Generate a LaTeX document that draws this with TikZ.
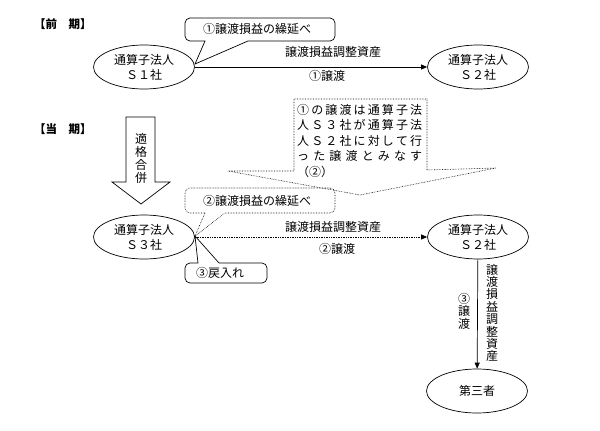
\documentclass[tikz,border=0pt]{standalone}
\usepackage{fontspec}
\setmainfont{Noto Sans CJK JP}
\usetikzlibrary{arrows.meta,shapes.geometric}
\begin{document}
\begin{tikzpicture}[x=1pt,y=-1pt,
  every node/.style={font=\fontsize{12}{15}\selectfont},
  ell/.style={ellipse,draw,line width=0.7pt,minimum width=101pt,minimum height=44pt,inner sep=0pt,align=center},
  conn/.style={line width=0.7pt,-{Triangle[length=6pt,width=5pt]}},
  dotconn/.style={line width=0.7pt,densely dotted,-{Triangle[length=6pt,width=5pt]}},
  callout/.style={line width=0.7pt},
  dotcallout/.style={line width=0.6pt,densely dotted},
  lbl/.style={inner sep=0pt},
  vlbl/.style={inner sep=0pt,align=center,font=\fontsize{12}{12.4}\selectfont},
  head/.style={inner sep=0pt,font=\fontsize{11.5}{14}\selectfont\bfseries}]
\useasboundingbox (0,0) rectangle (600,431);

% headers
\node[head] (h1) at (63,24) {【前　期】};
\node[head] (h2) at (63,129) {【当　期】};

% previous period
\node[ell] (s1) at (144,67) {通算子法人\\Ｓ１社};
\node[ell] (s2a) at (478,67) {通算子法人\\Ｓ２社};
\draw[conn] (s1) -- (s2a);
\node[lbl] (l1) at (333,52) {譲渡損益調整資産};
\node[lbl] (l2) at (327,76) {①譲渡};

% callout 1
\coordinate (c1tip) at (195,64);
\draw[callout] (205,41) [rounded corners=5pt] -- (185,41) -- (185,18) -- (335,18) -- (335,41) [sharp corners] -- (248,41) -- (c1tip) -- cycle;
\node[lbl] (c1t) at (257,29) {①譲渡損益の繰延べ};

% merger arrow
\draw[line width=0.7pt] (126,117) -- (155,117) -- (155,182) -- (170,182) -- (141,204) -- (112,182) -- (126,182) -- cycle;
\node[vlbl,font=\fontsize{12}{13}\selectfont] (mg) at (141,158) {適\\格\\合\\併};

% wing note
\draw[dotcallout] (294,99) -- (427,99) -- (427,170) -- (496,168) -- (360,195) -- (228,171) -- (294,171) -- cycle;
\node[inner sep=0pt,anchor=north west,align=left,font=\fontsize{12}{15.5}\selectfont] (note) at (297,104)
 {\makebox[125pt]{①\hfill の\hfill 譲\hfill 渡\hfill は\hfill 通\hfill 算\hfill 子\hfill 法}\\
  \makebox[125pt]{人\hfill Ｓ\hfill ３\hfill 社\hfill が\hfill 通\hfill 算\hfill 子\hfill 法}\\
  \makebox[125pt]{人\hfill Ｓ\hfill ２\hfill 社\hfill に\hfill 対\hfill し\hfill て\hfill 行}\\
  \makebox[125pt]{っ\hfill た\hfill 譲\hfill 渡\hfill と\hfill み\hfill な\hfill す}\\
  （②）};

% current period
\node[ell] (s3) at (144,237) {通算子法人\\Ｓ３社};
\node[ell] (s2b) at (478,237) {通算子法人\\Ｓ２社};
\node[ell] (t3) at (477,391) {第三者};
\draw[dotconn] (s3) -- (s2b);
\node[lbl] (l3) at (333,227) {譲渡損益調整資産};
\node[lbl] (l4) at (337,249) {②譲渡};
\draw[conn] (s2b) -- (t3);
\node[vlbl] (l5) at (492,313) {譲\\渡\\損\\益\\調\\整\\資\\産};
\node[vlbl] (l6) at (464,311) {③\\譲\\渡};

% callout 2 (dotted)
\coordinate (c2tip) at (195,236);
\draw[dotcallout] (205,213) [rounded corners=5pt] -- (185,213) -- (185,188) -- (335,188) -- (335,213) [sharp corners] -- (225,213) -- (c2tip) -- cycle;
\node[lbl] (c2t) at (257,201) {②譲渡損益の繰延べ};

% callout 3
\draw[callout] (219,263) [rounded corners=5pt] -- (267,263) -- (267,283) -- (185,283) -- (185,263) [sharp corners] -- (198,263) -- (c2tip) -- cycle;
\node[lbl] (c3t) at (220,273) {③戻入れ};
\end{tikzpicture}
\end{document}
